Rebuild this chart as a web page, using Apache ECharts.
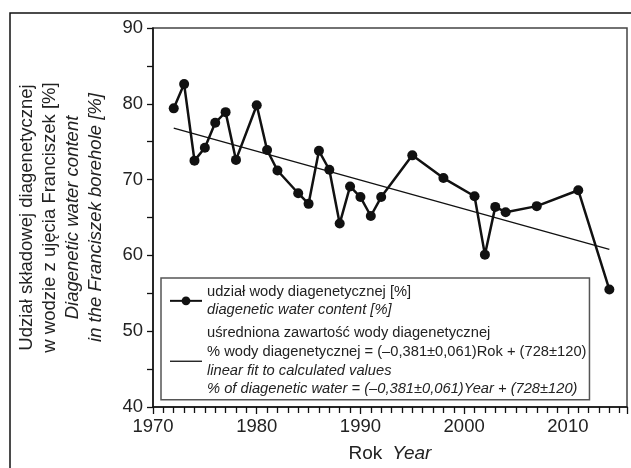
<!DOCTYPE html>
<html>
<head>
<meta charset="utf-8">
<script src="https://cdn.jsdelivr.net/npm/echarts@6/dist/echarts.min.js"></script>
<style>
html, body { margin: 0; padding: 0; background: #fff; }
#chart { width: 631px; height: 468px; }
</style>
</head>
<body>
<div id="chart"></div>
<script>
const FONT = '"Liberation Sans", Arial, sans-serif';

// measured diagenetic water content [%]
const years = [1972, 1973, 1974, 1975, 1976, 1977, 1978, 1980, 1981, 1982, 1984, 1985, 1986, 1987,
    1988, 1989, 1990, 1991, 1992, 1995, 1998, 2001, 2002, 2003, 2004, 2007, 2011, 2014];
const water = [79.4, 82.6, 72.5, 74.2, 77.5, 78.9, 72.6, 79.8, 73.9, 71.2, 68.2, 66.8, 73.8, 71.3,
    64.2, 69.1, 67.7, 65.2, 67.7, 73.2, 70.2, 67.8, 60.1, 66.4, 65.7, 66.5, 68.6, 55.5];

// linear fit end points
const fitYears = [1972, 2014];
const fitValues = [76.8, 60.8];

const seriesNames = ['udział wody diagenetycznej [%]', 'uśredniona zawartość wody diagenetycznej'];
const legendTexts = {
    'udział wody diagenetycznej [%]':
        '{n|udział wody diagenetycznej [%]}\n{i|diagenetic water content [%]}',
    'uśredniona zawartość wody diagenetycznej':
        '{n|uśredniona zawartość wody diagenetycznej}\n' +
        '{n|% wody diagenetycznej = (–0,381±0,061)Rok + (728±120)}\n' +
        '{i|linear fit to calculated values}\n' +
        '{i|% of diagenetic water = (–0,381±0,061)Year + (728±120)}'
};

const chart = echarts.init(document.getElementById('chart'));
chart.setOption({
    animation: false,
    backgroundColor: '#fff',
    textStyle: { fontFamily: FONT },
    grid: {
        left: 153, top: 28, right: 4, bottom: 55,
        show: true, borderColor: '#444', borderWidth: 1.5, backgroundColor: 'transparent'
    },
    xAxis: {
        type: 'value',
        min: 1970,
        max: 2015.7,
        interval: 10,
        name: '{n|Rok}   {i|Year}',
        nameLocation: 'middle',
        nameGap: 37,
        nameTextStyle: {
            rich: {
                n: { fontFamily: FONT, fontSize: 19, color: '#222' },
                i: { fontFamily: FONT, fontSize: 19, color: '#222', fontStyle: 'italic' }
            }
        },
        axisLine: { lineStyle: { color: '#111', width: 1.5 } },
        axisTick: { inside: false, length: 7, lineStyle: { color: '#111', width: 1.3 } },
        minorTick: { show: true, splitNumber: 10, length: 6, lineStyle: { color: '#111', width: 1.3 } },
        axisLabel: {
            margin: 10, fontSize: 18.5, color: '#222', fontFamily: FONT,
            formatter: v => (v % 10 === 0 ? String(v) : '')
        },
        splitLine: { show: false }
    },
    yAxis: {
        type: 'value',
        min: 40,
        max: 90,
        interval: 10,
        name: '{n|Udział składowej diagenetycznej}\n{n|w wodzie z ujęcia Franciszek [%]}\n' +
            '{i|Diagenetic water content}\n{i|in the Franciszek borehole [%]}',
        nameLocation: 'middle',
        nameRotate: 90,
        nameGap: 46,
        nameTextStyle: {
            rich: {
                n: { fontFamily: FONT, fontSize: 18.5, color: '#222', lineHeight: 23 },
                i: { fontFamily: FONT, fontSize: 18.5, color: '#222', lineHeight: 23, fontStyle: 'italic' }
            }
        },
        axisLine: { show: true, lineStyle: { color: '#111', width: 1.5 } },
        axisTick: { inside: false, length: 6, lineStyle: { color: '#111', width: 1.3 } },
        minorTick: { show: true, splitNumber: 2, length: 6, lineStyle: { color: '#111', width: 1.3 } },
        axisLabel: { margin: 10, fontSize: 18.5, color: '#222', fontFamily: FONT },
        splitLine: { show: false }
    },
    legend: {
        orient: 'vertical',
        left: 161,
        top: 278,
        padding: [6, 3, 3, 8],
        itemGap: 8,
        itemWidth: 32,
        itemHeight: 11,
        borderColor: '#555',
        borderWidth: 1.5,
        data: [
            { name: seriesNames[0] },
            { name: seriesNames[1], icon: 'path://M0,0H32V1.3H0Z' }
        ],
        formatter: name => legendTexts[name],
        textStyle: {
            rich: {
                n: { fontFamily: FONT, fontSize: 14.7, color: '#222', lineHeight: 18.7 },
                i: { fontFamily: FONT, fontSize: 14.7, color: '#222', lineHeight: 18.7, fontStyle: 'italic' }
            }
        }
    },
    graphic: [
        {
            type: 'polyline',
            silent: true,
            shape: { points: [[10, 468], [10, 13], [631, 13]] },
            style: { stroke: '#111', lineWidth: 1.5, fill: null }
        }
    ],
    series: [
        {
            name: seriesNames[1],
            type: 'line',
            data: fitYears.map((y, i) => [y, fitValues[i]]),
            symbol: 'none',
            lineStyle: { color: '#111', width: 1.3 },
            itemStyle: { color: '#111' },
            z: 2
        },
        {
            name: seriesNames[0],
            type: 'line',
            data: years.map((y, i) => [y, water[i]]),
            symbol: 'circle',
            symbolSize: 10,
            lineStyle: { color: '#111', width: 2.5 },
            itemStyle: { color: '#111' },
            z: 3
        }
    ]
});
</script>
</body>
</html>
